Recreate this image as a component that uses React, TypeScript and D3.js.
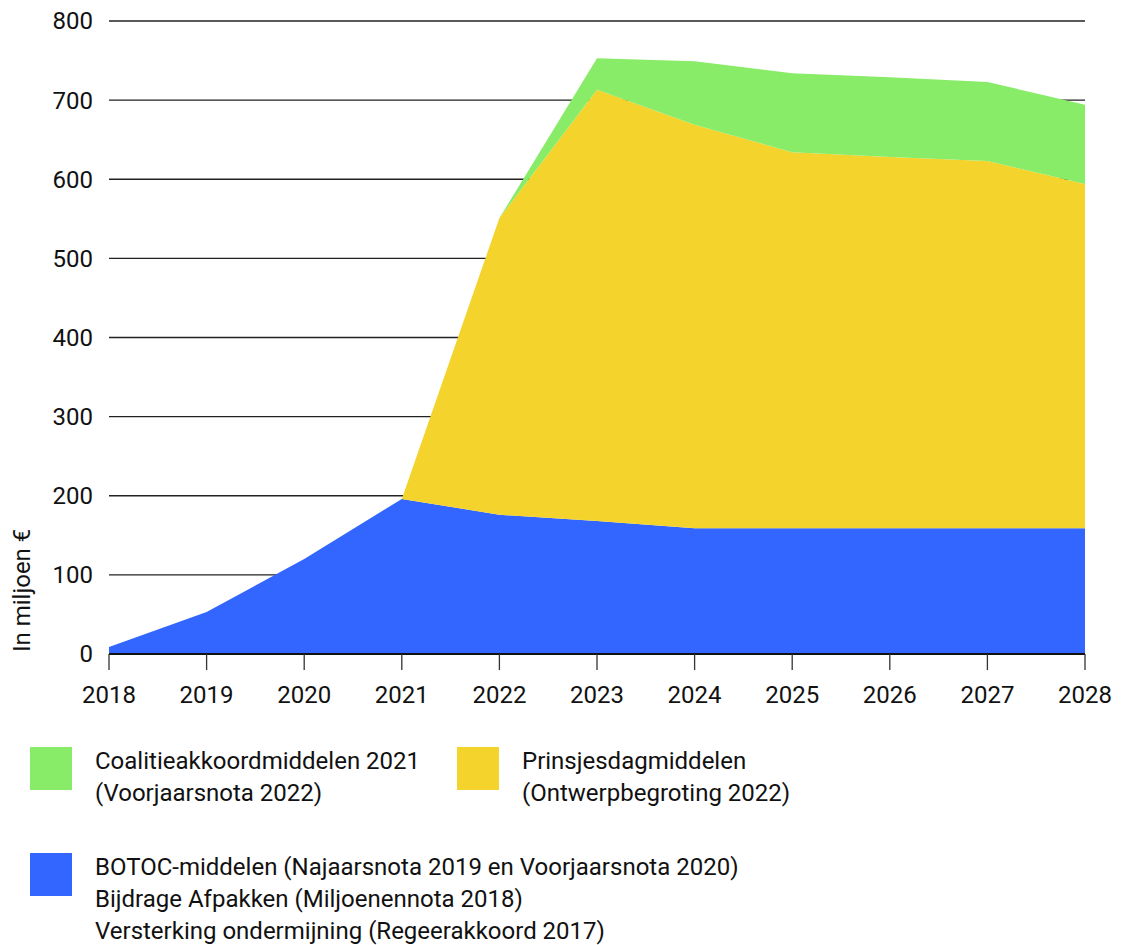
import React from "react";
import * as d3 from "d3";

const years = [2018, 2019, 2020, 2021, 2022, 2023, 2024, 2025, 2026, 2027, 2028];
const blueValues = [9, 53, 120, 196, 176, 168, 159, 159, 159, 159, 159];
const yellowValues = [0, 0, 0, 0, 375, 545, 510, 475, 469, 464, 435];
const greenValues = [0, 0, 0, 0, 0, 40, 80, 100, 101, 100, 100];
const yTicks = [0, 100, 200, 300, 400, 500, 600, 700, 800];
const seriesKeys = ["blue", "yellow", "green"];
const seriesColors: Record<string, string> = { blue: "#3366ff", yellow: "#f4d42c", green: "#88ec68" };
const legendGreen = ["Coalitieakkoordmiddelen 2021", "(Voorjaarsnota 2022)"];
const legendYellow = ["Prinsjesdagmiddelen", "(Ontwerpbegroting 2022)"];
const legendBlue = [
  "BOTOC-middelen (Najaarsnota 2019 en Voorjaarsnota 2020)",
  "Bijdrage Afpakken (Miljoenennota 2018)",
  "Versterking ondermijning (Regeerakkoord 2017)",
];
const yLabel = "In miljoen €";

const W = 1121;
const H = 945;
const left = 109;
const right = 1085;
const top = 21;
const bottom = 654;
const FONT = "Roboto, 'Noto Sans', sans-serif";
const FS = 24;

export default function App() {
  const x = d3.scaleLinear().domain([2018, 2028]).range([left, right]);
  const y = d3.scaleLinear().domain([0, 800]).range([bottom, top]);
  const table = years.map((yr, i) => ({
    year: yr,
    blue: blueValues[i],
    yellow: yellowValues[i],
    green: greenValues[i],
  }));
  const stacked = d3.stack<any>().keys(seriesKeys)(table);
  const area = d3
    .area<any>()
    .x((d) => x(d.data.year))
    .y0((d) => y(d[0]))
    .y1((d) => y(d[1]));

  const legendItem = (color: string, lines: string[], lx: number, ly: number) => (
    <g>
      <rect x={lx} y={ly} width={42} height={43} fill={color} />
      {lines.map((t, i) => (
        <text key={i} x={lx + 65} y={ly + 22 + i * 32} fontSize={FS} fill="#111">
          {t}
        </text>
      ))}
    </g>
  );

  return (
    <svg
      width={W}
      height={H}
      style={{ position: "absolute", left: 0, top: 0, fontFamily: FONT }}
    >
      <rect width={W} height={H} fill="#fff" />
      {yTicks.map((t) => (
        <g key={t}>
          <line x1={left} x2={right} y1={y(t)} y2={y(t)} stroke="#222" strokeWidth={1.3} />
          <text x={left - 16} y={y(t)} dy="0.35em" textAnchor="end" fontSize={FS} fill="#111">
            {t}
          </text>
        </g>
      ))}
      {stacked.map((s) => (
        <path key={s.key} d={area(s) || ""} fill={seriesColors[s.key]} />
      ))}
      <line x1={left} x2={right} y1={bottom} y2={bottom} stroke="#111" strokeWidth={2} />
      {years.map((yr) => (
        <g key={yr}>
          <line x1={x(yr)} x2={x(yr)} y1={bottom} y2={bottom + 16} stroke="#333" strokeWidth={1.3} />
          <text x={x(yr)} y={bottom + 49} textAnchor="middle" fontSize={FS} fill="#111">
            {yr}
          </text>
        </g>
      ))}
      <text
        transform={`translate(30, ${bottom - 2}) rotate(-90)`}
        textAnchor="start"
        fontSize={FS}
        fill="#111"
      >
        {yLabel}
      </text>
      {legendItem(seriesColors.green, legendGreen, 30, 747)}
      {legendItem(seriesColors.yellow, legendYellow, 457, 747)}
      {legendItem(seriesColors.blue, legendBlue, 30, 853)}
    </svg>
  );
}
